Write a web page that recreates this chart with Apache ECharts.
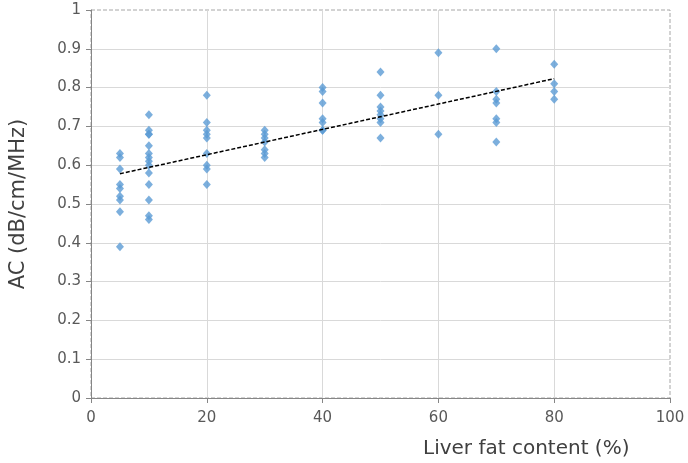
<!DOCTYPE html>
<html>
<head>
<meta charset="utf-8">
<script src="https://cdn.jsdelivr.net/npm/echarts@6/dist/echarts.min.js"></script>
<style>
html,body{margin:0;padding:0;background:#fff;}
#chart{width:688px;height:463px;}
</style>
</head>
<body>
<div id="chart"></div>
<script>
// Liver fat content (%) groups and AC values (dB/cm/MHz)
const fat5 = [0.63, 0.62, 0.59, 0.55, 0.54, 0.52, 0.51, 0.48, 0.39];
const fat10 = [0.73, 0.69, 0.68, 0.68, 0.65, 0.63, 0.62, 0.61, 0.60, 0.58, 0.55, 0.51, 0.47, 0.46];
const fat20 = [0.78, 0.71, 0.69, 0.68, 0.67, 0.63, 0.60, 0.59, 0.55];
const fat30 = [0.69, 0.68, 0.67, 0.66, 0.64, 0.63, 0.62];
const fat40 = [0.80, 0.79, 0.76, 0.72, 0.71, 0.69, 0.69];
const fat50 = [0.84, 0.78, 0.75, 0.74, 0.73, 0.72, 0.71, 0.67];
const fat60 = [0.89, 0.78, 0.68];
const fat70 = [0.90, 0.79, 0.77, 0.76, 0.72, 0.71, 0.66];
const fat80 = [0.86, 0.81, 0.79, 0.77];
const groupX = [5, 10, 20, 30, 40, 50, 60, 70, 80];
const groupVals = [fat5, fat10, fat20, fat30, fat40, fat50, fat60, fat70, fat80];
// Trend line endpoints
const trendX = [5, 80];
const trendY = [0.578, 0.823];
const yTicks = ['0','0.1','0.2','0.3','0.4','0.5','0.6','0.7','0.8','0.9','1'];

const points = [];
groupX.forEach((x, i) => groupVals[i].forEach(v => points.push([x, v])));
const trend = trendX.map((x, i) => [x, trendY[i]]);

const font = 'DejaVu Sans, Verdana, sans-serif';
const chart = echarts.init(document.getElementById('chart'));
chart.setOption({
  animation: false,
  grid: {left: 90, right: 18, top: 10, bottom: 65, show: true, borderColor: '#a6a6a6', borderWidth: 1, borderType: 'dashed'},
  xAxis: {
    type: 'value', min: 0, max: 100, interval: 20,
    axisLine: {show: true, lineStyle: {color: '#868686', width: 1}},
    axisTick: {show: true, length: 5, lineStyle: {color: '#868686'}},
    axisLabel: {color: '#595959', fontSize: 15, fontFamily: font, margin: 13},
    splitLine: {show: true, showMinLine: false, showMaxLine: false, lineStyle: {color: '#d9d9d9', width: 1}}
  },
  yAxis: {
    type: 'value', min: 0, max: 1, interval: 0.1,
    axisLine: {show: true, lineStyle: {color: '#868686', width: 1}},
    axisTick: {show: true, length: 5, lineStyle: {color: '#868686'}},
    axisLabel: {color: '#595959', fontSize: 15, fontFamily: font, margin: 10,
      formatter: (v) => yTicks[Math.round(v * 10)]},
    splitLine: {show: true, showMinLine: false, showMaxLine: false, lineStyle: {color: '#d9d9d9', width: 1}},
    name: 'AC (dB/cm/MHz)', nameLocation: 'middle', nameGap: 62,
    nameTextStyle: {color: '#404040', fontSize: 21, fontFamily: font}
  },
  graphic: [{
    type: 'text', x: 423, y: 449,
    style: {text: 'Liver fat content (%)', fill: '#404040', font: '20px ' + font, verticalAlign: 'middle'}
  }],
  series: [
    {type: 'scatter', data: points, symbol: 'diamond', symbolSize: [8, 9],
     itemStyle: {color: '#5b9bd5'}, z: 3},
    {type: 'line', data: trend, symbol: 'none', z: 4,
     lineStyle: {color: '#000', width: 1.5, type: [4, 2]}}
  ]
});
</script>
</body>
</html>
